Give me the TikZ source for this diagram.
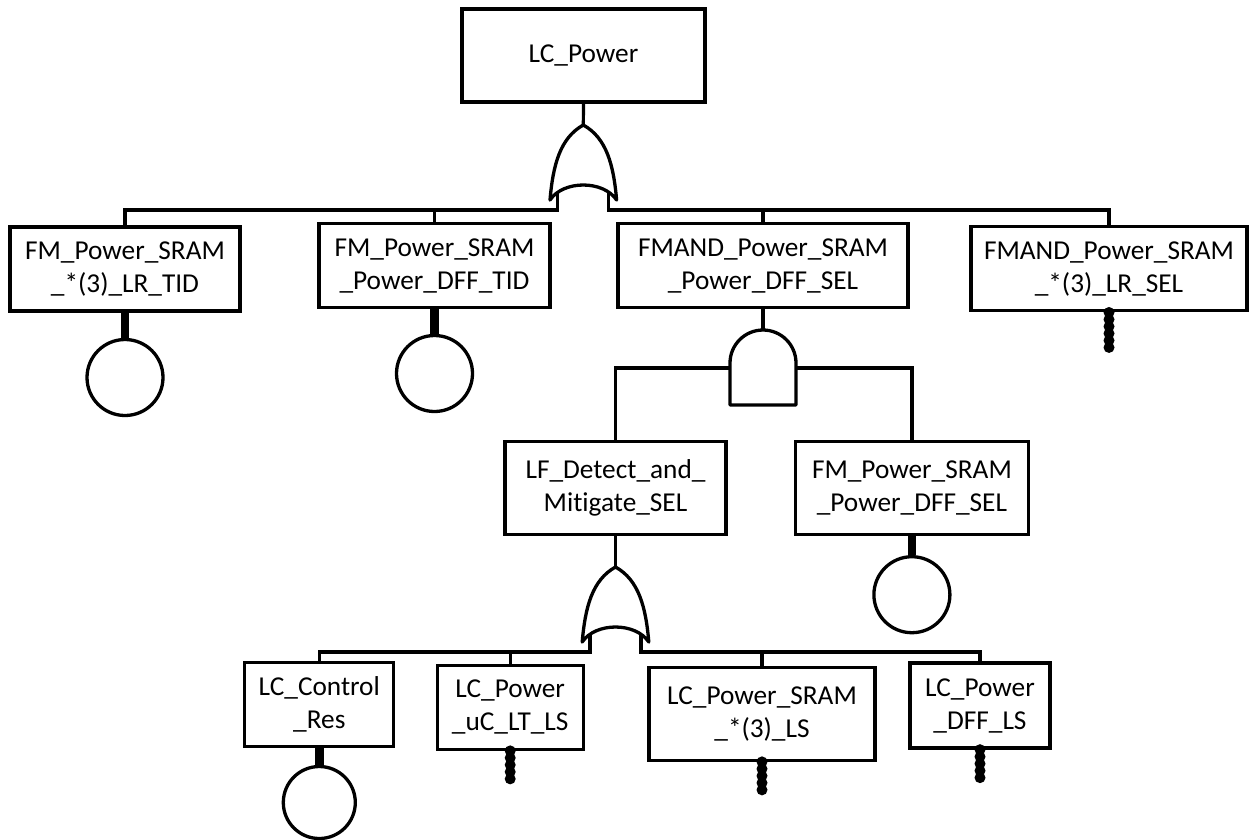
\documentclass[tikz,border=0pt]{standalone}
\usepackage{fontspec}
\setmainfont{Carlito}[Ligatures={NoCommon}]
\begin{document}
\begin{tikzpicture}[x=1pt,y=-1pt,
  box/.style={draw, line width=3.3pt, fill=white, align=center, inner sep=0pt,
    font=\fontsize{27.3}{33}\selectfont},
  wire/.style={line width=3.2pt},
  solidstub/.style={line width=8.5pt},
  chain/.style={line width=11pt, line cap=round, dash pattern=on 0pt off 7pt},
  basic/.style={circle, draw, line width=3.3pt, fill=white, inner sep=0pt},
  gateline/.style={line width=3.3pt, fill=white, line join=round},
  orgate/.pic={
    \coordinate (-top) at (0,0);
    \coordinate (-l) at (-25.5,85);
    \coordinate (-r) at (25.5,85);
    \coordinate (-li) at (-25.5,55);
    \coordinate (-ri) at (25.5,55);
  },
  andgate/.pic={
    \coordinate (-top) at (0,0);
    \coordinate (-l) at (-33,38);
    \coordinate (-r) at (33,38);
  },
]
\useasboundingbox (0,0) rectangle (1249,839);

% gate anchor points
\pic (g1) at (583.3,125) {orgate};
\pic (g2) at (763,330) {andgate};
\pic (g3) at (615.5,567) {orgate};

% event boxes
\node[box, minimum width=243pt, minimum height=93pt] (top) at (583.5,55.5) {LC\_Power};
\node[box, minimum width=230pt, minimum height=84pt] (b1) at (125,269) {FM\_Power\_SRAM\\\_*(3)\_LR\_TID};
\node[box, minimum width=231pt, minimum height=84pt] (b2) at (434.5,265.6) {FM\_Power\_SRAM\\\_Power\_DFF\_TID};
\node[box, minimum width=290pt, minimum height=84pt] (b3) at (763,265.8) {FMAND\_Power\_SRAM\\\_Power\_DFF\_SEL};
\node[box, minimum width=276pt, minimum height=84pt] (b4) at (1109,268.8) {FMAND\_Power\_SRAM\\\_*(3)\_LR\_SEL};
\node[box, minimum width=221pt, minimum height=93pt] (b5) at (615.5,488.3) {LF\_Detect\_and\_\\Mitigate\_SEL};
\node[box, minimum width=233pt, minimum height=93pt] (b6) at (911.9,488.3) {FM\_Power\_SRAM\\\_Power\_DFF\_SEL};
\node[box, minimum width=149pt, minimum height=84pt] (b7) at (319.3,704.7) {LC\_Control\\\_Res};
\node[box, minimum width=146pt, minimum height=84pt] (b8) at (510.2,707.2) {LC\_Power\\\_uC\_LT\_LS};
\node[box, minimum width=226pt, minimum height=93pt] (b9) at (762,713.7) {LC\_Power\_SRAM\\\_*(3)\_LS};
\node[box, minimum width=140pt, minimum height=85pt] (b10) at (980,705.5) {LC\_Power\\\_DFF\_LS};

% connectors, drawn before the gates so the gate fill hides their inner ends
\draw[wire] (top.south) -- (g1-top);
\draw[wire] (g1-li) -- (g1-l) -| (b1.north);
\draw[wire] (b2.north) -- (b2.north |- g1-l);
\draw[wire] (g1-ri) -- (g1-r) -| (b4.north);
\draw[wire] (b3.north) -- (b3.north |- g1-r);

\draw[wire] (b3.south) -- (g2-top);
\draw[wire] (g2-l) -| (b5.north);
\draw[wire] (g2-r) -| (b6.north);

\draw[wire] (b5.south) -- (g3-top);
\draw[wire] (g3-li) -- (g3-l) -| (b7.north);
\draw[wire] (b8.north) -- (b8.north |- g3-l);
\draw[wire] (g3-ri) -- (g3-r) -| (b10.north);
\draw[wire] (b9.north) -- (b9.north |- g3-r);

% OR gates
\foreach \g in {g1,g3}{
  \draw[gateline] ([shift={(-33.3,75)}]\g-top) .. controls ([shift={(-30.3,40)}]\g-top) and ([shift={(-23.3,13)}]\g-top) .. (\g-top)
    .. controls ([shift={(23.3,13)}]\g-top) and ([shift={(30.3,40)}]\g-top) .. ([shift={(33.3,75)}]\g-top)
    .. controls ([shift={(20,55)}]\g-top) and ([shift={(-20,55)}]\g-top) .. cycle;
}
% AND gate
\draw[gateline] ([shift={(-33,75)}]g2-top) -- ([shift={(-33,33)}]g2-top)
  .. controls ([shift={(-33,14.8)}]g2-top) and ([shift={(-18.2,0)}]g2-top) .. (g2-top)
  .. controls ([shift={(18.2,0)}]g2-top) and ([shift={(33,14.8)}]g2-top) .. ([shift={(33,33)}]g2-top)
  -- ([shift={(33,75)}]g2-top) -- cycle;

% basic events
\node[basic, minimum size=76pt] (c1) at (125,377.5) {};
\node[basic, minimum size=76pt] (c2) at (434.5,373.5) {};
\node[basic, minimum size=76pt] (c6) at (911.9,594.7) {};
\node[basic, minimum size=72pt] (c7) at (319.3,802.5) {};
\draw[solidstub] (b1.south) -- (c1.north);
\draw[solidstub] (b2.south) -- (c2.north);
\draw[solidstub] (b6.south) -- (c6.north);
\draw[solidstub] (b7.south) -- (c7.north);

% undeveloped event stubs
\coordinate (e4) at (1109,353);
\coordinate (e8) at (510.2,784.3);
\coordinate (e9) at (762,795);
\coordinate (e10) at (980,783.5);
\draw[chain] (b4.south) -- (e4);
\draw[chain] (b8.south) -- (e8);
\draw[chain] (b9.south) -- (e9);
\draw[chain] (b10.south) -- (e10);
\end{tikzpicture}
\end{document}
